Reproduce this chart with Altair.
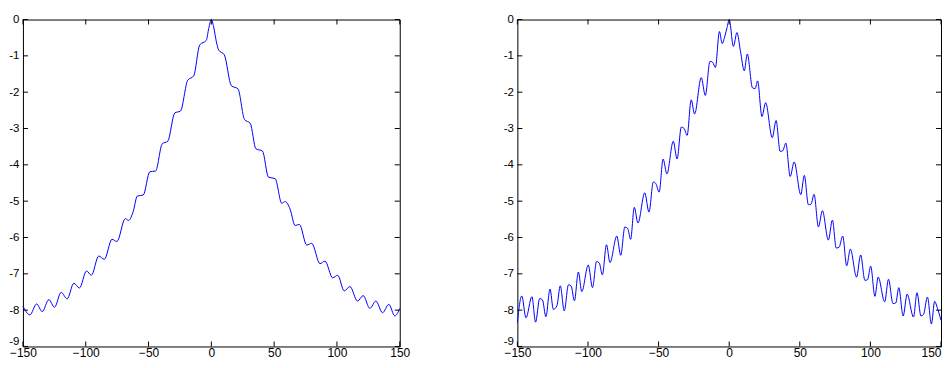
import altair as alt
import pandas as pd

# Tick values
x_ticks = [-150, -100, -50, 0, 50, 100, 150]
y_ticks = [0, -1, -2, -3, -4, -5, -6, -7, -8, -9]

# Left panel curve
left_x = [-150, -144.5, -139.1, -134.7, -129.4, -124.9, -119.6, -114.8, -109.5, -105.0,
          -99.4, -95.5, -89.7, -85.2, -79.1, -75.2, -68.5, -65.9, -62.1, -59.0,
          -54.2, -49.0, -44.4, -39.1, -34.7, -29.1, -24.6, -18.8, -14.0, -9.3,
          -4.0, -2.1, 0.0, 1.8, 4.0, 5.8, 10.3, 15.9, 21.2, 26.4,
          31.0, 35.5, 40.7, 45.5, 50.8, 56.1, 58.7, 62.7, 66.7, 70.1,
          76.0, 79.9, 86.5, 90.5, 96.6, 100.6, 105.8, 110.3, 116.4, 120.9,
          126.2, 131.0, 136.3, 141.3, 146.1, 150]
left_y = [-7.89, -8.13, -7.83, -8.04, -7.71, -7.92, -7.51, -7.69, -7.26, -7.39,
          -6.92, -7.04, -6.51, -6.60, -6.05, -6.11, -5.48, -5.53, -5.27, -4.86,
          -4.83, -4.19, -4.17, -3.42, -3.35, -2.57, -2.52, -1.67, -1.55, -0.70,
          -0.57, -0.25, 0.0, -0.20, -0.61, -0.84, -0.97, -1.82, -1.91, -2.75,
          -2.86, -3.56, -3.62, -4.34, -4.38, -5.06, -5.01, -5.22, -5.67, -5.64,
          -6.21, -6.16, -6.72, -6.65, -7.11, -7.04, -7.47, -7.35, -7.75, -7.60,
          -7.95, -7.75, -8.07, -7.84, -8.16, -7.95]

# Right panel curve
right_x = [-150, -146.9, -143.9, -139.7, -137.1, -134.2, -132.2, -129.8, -126.9, -124.5,
           -122.0, -119.6, -116.8, -113.8, -111.9, -109.6, -106.8, -104.4, -99.8, -96.8,
           -93.9, -92.0, -89.8, -86.9, -84.4, -79.6, -76.8, -73.9, -71.9, -69.8,
           -67.2, -64.6, -59.8, -56.8, -53.7, -51.9, -49.6, -46.8, -44.1, -39.6,
           -36.9, -33.9, -31.9, -29.8, -26.9, -24.5, -19.8, -16.9, -13.6, -11.7,
           -9.8, -6.9, -5.0, -3.0, -1.5, 0.0, 3.0, 5.5, 7.9, 10.7,
           12.8, 16.5, 18.4, 20.1, 23.2, 25.8, 30.5, 33.2, 36.1, 38.0,
           40.1, 43.2, 46.0, 50.7, 53.2, 56.1, 58.0, 60.1, 63.2, 66.0,
           70.2, 73.1, 75.8, 77.8, 80.4, 83.2, 85.8, 90.2, 93.1, 96.1,
           98.0, 100.2, 103.2, 105.5, 110.1, 112.8, 116.0, 118.0, 120.1, 123.2,
           126.0, 130.5, 133.0, 135.8, 137.6, 140.4, 143.2, 145.5, 147.5, 150]
right_y = [-8.34, -7.61, -8.21, -7.63, -8.33, -7.68, -7.72, -8.18, -7.42, -7.98,
           -7.88, -7.33, -8.02, -7.30, -7.34, -7.74, -6.95, -7.49, -6.76, -7.38,
           -6.66, -6.70, -7.03, -6.20, -6.69, -5.96, -6.49, -5.71, -5.75, -6.05,
           -5.17, -5.60, -4.77, -5.30, -4.47, -4.52, -4.75, -3.84, -4.25, -3.35,
           -3.84, -2.96, -3.00, -3.19, -2.21, -2.60, -1.60, -2.09, -1.15, -1.18,
           -1.32, -0.33, -0.66, -0.45, -0.22, 0.0, -0.74, -0.36, -0.85, -1.41,
           -0.95, -1.88, -1.90, -1.69, -2.67, -2.29, -3.25, -2.78, -3.63, -3.61,
           -3.40, -4.32, -3.92, -4.82, -4.29, -5.10, -5.08, -4.81, -5.71, -5.26,
           -6.07, -5.52, -6.29, -6.27, -5.96, -6.78, -6.32, -7.09, -6.48, -7.18,
           -7.16, -6.79, -7.62, -7.09, -7.77, -7.15, -7.82, -7.80, -7.38, -8.16,
           -7.56, -8.19, -7.52, -8.16, -8.12, -7.64, -8.38, -7.76, -7.95, -8.28]

H = 328
W_LEFT = 378
W_RIGHT = 425
TICK = 5
FONT = "Liberation Sans"


def panel(xs, ys, width, last_right):
    df = pd.DataFrame({"x": xs, "y": ys})
    xt = pd.DataFrame({"x": x_ticks})
    yt = pd.DataFrame({"y": y_ticks})
    xscale = alt.Scale(domain=[-150, 150], nice=False, zero=False)
    yscale = alt.Scale(domain=[-9, 0], nice=False, zero=False)
    x_align = ({"condition": {"test": "datum.value == 150", "value": "right"}, "value": "center"}
               if last_right else "center")
    xaxis = alt.Axis(values=x_ticks, title=None, grid=False, domain=False, ticks=False,
                     tickSize=0, labelFlush=False, labelPadding=1, labelFontSize=12,
                     labelFont=FONT, labelColor="black", labelBaseline="top", labelAngle=0,
                     labelAlign=x_align, labelOverlap=False)
    yaxis = alt.Axis(values=y_ticks, title=None, grid=False, domain=False, ticks=False,
                     tickSize=0, labelPadding=4, labelFontSize=11.5, labelFont=FONT,
                     labelColor="black", labelExpr="toString(datum.value)",
                     labelBaseline={"condition": {"test": "datum.value == -9", "value": "bottom"},
                                    "value": "middle"},
                     labelFlush=False, labelOverlap=False)
    X = alt.X("x:Q", scale=xscale, axis=xaxis)
    Y = alt.Y("y:Q", scale=yscale, axis=yaxis)
    line = alt.Chart(df).mark_line(color="#0000ff", strokeWidth=1,
                                   interpolate="monotone").encode(x=X, y=Y)
    bottom = alt.Chart(xt).mark_rule(color="black", strokeWidth=1).encode(
        x=X, y=alt.value(H), y2=alt.value(H - TICK))
    top = alt.Chart(xt).mark_rule(color="black", strokeWidth=1).encode(
        x=X, y=alt.value(0), y2=alt.value(TICK))
    left = alt.Chart(yt).mark_rule(color="black", strokeWidth=1).encode(
        y=Y, x=alt.value(0), x2=alt.value(TICK))
    right = alt.Chart(yt).mark_rule(color="black", strokeWidth=1).encode(
        y=Y, x=alt.value(width), x2=alt.value(width - TICK))
    return alt.layer(line, bottom, top, left, right).properties(width=width, height=H)


chart = alt.hconcat(
    panel(left_x, left_y, W_LEFT, False),
    panel(right_x, right_y, W_RIGHT, True),
    spacing=118,
    bounds="flush",
).properties(
    padding={"left": 0, "top": 4, "right": 0, "bottom": 1},
    background="white",
).configure_view(stroke="black", strokeWidth=1)

chart.save("out.html", embed_options={"renderer": "svg", "actions": False})
